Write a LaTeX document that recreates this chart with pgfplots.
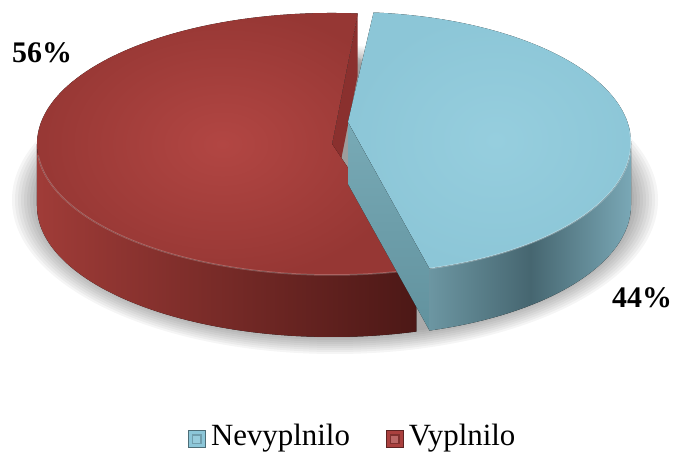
\documentclass[border=0pt]{standalone}
\usepackage{pgfplots}
\pgfplotsset{compat=1.18}
\usepackage{pgfplotstable}
\usepackage{fontspec}
\setmainfont{Liberation Serif}

\definecolor{redtopin}{RGB}{178,70,67}
\definecolor{redtopout}{RGB}{150,55,52}
\definecolor{redsideL}{RGB}{160,60,56}
\definecolor{redsideR}{RGB}{76,24,22}
\definecolor{redcut}{RGB}{138,48,46}
\definecolor{bluetopin}{RGB}{150,206,222}
\definecolor{bluetopout}{RGB}{140,198,215}
\definecolor{bluesideL}{RGB}{108,150,162}
\definecolor{bluesideM}{RGB}{70,102,112}
\definecolor{bluesideR}{RGB}{122,168,182}
\definecolor{bluecutT}{RGB}{120,170,182}
\definecolor{bluecutB}{RGB}{98,146,158}
\definecolor{legblue}{RGB}{140,198,216}
\definecolor{legred}{RGB}{170,64,62}

\pgfplotstableread{
label value
Nevyplnilo 44
Vyplnilo 56
}\piedata

\begin{document}
\begin{tikzpicture}
\pgfplotstablegetelem{0}{value}\of\piedata \pgfmathsetmacro{\va}{\pgfplotsretval}
\pgfplotstablegetelem{1}{value}\of\piedata \pgfmathsetmacro{\vb}{\pgfplotsretval}
\pgfmathsetmacro{\tot}{\va+\vb}
\pgfmathsetmacro{\startang}{85}
\pgfmathsetmacro{\splitang}{\startang-360*\va/\tot}
\pgfmathsetmacro{\redend}{\splitang+360}
\def\th{62}
% red slice geometry
\def\rcx{332}\def\rcy{309}\def\rrx{295}\def\rry{131}
\pgfmathsetmacro{\rcyb}{\rcy-\th}
% blue slice geometry
\def\bcx{349}\def\bcy{310}\def\brx{282}\def\bry{131}
\def\bax{348}\def\bay{331}
\pgfmathsetmacro{\bayb}{\bay-\th}
\pgfmathsetmacro{\bpx}{\bcx+\brx*cos(\splitang)}
\pgfmathsetmacro{\bpy}{\bcy+\bry*sin(\splitang)}
\pgfmathsetmacro{\bpyb}{\bpy-\th}
\pgfmathsetmacro{\bsx}{\bcx+\brx*cos(\startang)}
\pgfmathsetmacro{\bsy}{\bcy+\bry*sin(\startang)}
\begin{axis}[
  x=1bp, y=1bp, xmin=0, xmax=675, ymin=0, ymax=453,
  hide axis, clip=false,
  legend columns=2,
  legend cell align=left,
  legend style={draw=none, fill=none, inner sep=0pt, outer sep=0pt,
    at={(axis cs:184.5,17)}, anchor=west,
    font=\fontsize{31}{37}\selectfont,
    nodes={inner sep=3.5bp},
    /tikz/every even column/.append style={column sep=29bp}},
]
\path (axis cs:0,0) rectangle (axis cs:675,453);
% shadow
\pgfplotsinvokeforeach{0,...,9}{
  \fill[black, opacity=0.04] (axis cs:335,253) ellipse [x radius={296bp+3bp*#1}, y radius={136bp+2bp*#1}];
}
\fill[black, opacity=0.08] (axis cs:345,300) ellipse [x radius=45bp, y radius=100bp];
% red cut face (visible strip near top)
\fill[redcut] (axis cs:\rcx,\rcy) -- ++(\startang:\rrx bp and \rry bp) -- ++(0,-\th bp) -- (axis cs:\rcx,\rcyb) -- cycle;
% red side
\fill[left color=redsideL, right color=redsideR]
  (axis cs:\rcx,\rcy) ++(180:\rrx bp and \rry bp)
  arc[start angle=180, end angle=\redend, x radius=\rrx bp, y radius=\rry bp]
  -- ++(0,-\th bp)
  arc[start angle=\redend, end angle=180, x radius=\rrx bp, y radius=\rry bp] -- cycle;
% red top
\fill[inner color=redtopin, outer color=redtopout]
  (axis cs:\rcx,\rcy) -- ++(\startang:\rrx bp and \rry bp)
  arc[start angle=\startang, end angle=\redend, x radius=\rrx bp, y radius=\rry bp] -- cycle;
\draw[white, opacity=0.22, line width=1.5bp]
  (axis cs:\rcx,\rcy) ++(185:\rrx bp and \rry bp)
  arc[start angle=185, end angle=\redend, x radius=\rrx bp, y radius=\rry bp];
% blue cut face
\fill[top color=bluecutT, bottom color=bluecutB]
  (axis cs:\bax,\bay) -- (axis cs:\bpx,\bpy) -- (axis cs:\bpx,\bpyb) -- (axis cs:\bax,\bayb) -- cycle;
% blue side
\fill[left color=bluesideL, right color=bluesideR, middle color=bluesideM]
  (axis cs:\bpx,\bpy)
  arc[start angle=\splitang, end angle=0, x radius=\brx bp, y radius=\bry bp]
  -- ++(0,-\th bp)
  arc[start angle=0, end angle=\splitang, x radius=\brx bp, y radius=\bry bp] -- cycle;
% blue top
\fill[inner color=bluetopin, outer color=bluetopout]
  (axis cs:\bax,\bay) -- (axis cs:\bsx,\bsy)
  arc[start angle=\startang, end angle=\splitang, x radius=\brx bp, y radius=\bry bp] -- cycle;
\draw[white, opacity=0.3, line width=1.5bp]
  (axis cs:\bcx,\bcy) ++(5:\brx bp and \bry bp)
  arc[start angle=5, end angle=\splitang, x radius=\brx bp, y radius=\bry bp];
% data labels
\node[anchor=base, inner sep=0pt, font=\bfseries\fontsize{30}{36}\selectfont] at (axis cs:42,390) {56\%};
\node[anchor=base, inner sep=0pt, font=\bfseries\fontsize{30}{36}\selectfont] at (axis cs:642,145) {44\%};
% legend
\addlegendimage{legend image code/.code={
  \path[draw=none, fill=none] (0bp,-1bp) rectangle (23bp,1bp);
  \fill[legblue] (3.5bp,-11.5bp) rectangle (20.5bp,5.5bp);
  \fill[legblue!80!black] (7.5bp,-7.5bp) rectangle (16.5bp,1.5bp);
  \fill[legblue!90!white] (9bp,-6bp) rectangle (15bp,0bp);
  \draw[legblue!55!black, line width=0.6bp] (3.5bp,-11.5bp) rectangle (20.5bp,5.5bp);}}
\addlegendentry{Nevyplnilo}
\addlegendimage{legend image code/.code={
  \path[draw=none, fill=none] (0bp,-1bp) rectangle (23bp,1bp);
  \fill[legred] (3.5bp,-11.5bp) rectangle (20.5bp,5.5bp);
  \fill[legred!75!black] (7.5bp,-7.5bp) rectangle (16.5bp,1.5bp);
  \fill[legred!80!white] (9bp,-6bp) rectangle (15bp,0bp);
  \draw[legred!55!black, line width=0.6bp] (3.5bp,-11.5bp) rectangle (20.5bp,5.5bp);}}
\addlegendentry{Vyplnilo}
\end{axis}
\end{tikzpicture}
\end{document}
